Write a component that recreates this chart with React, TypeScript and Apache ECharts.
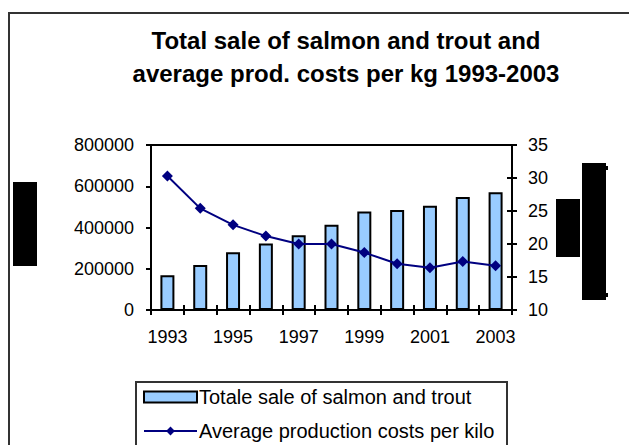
import React, { useEffect, useRef } from "react";
import * as echarts from "echarts";

const years = ["1993", "1994", "1995", "1996", "1997", "1998", "1999", "2000", "2001", "2002", "2003"];
const totalSale = [168000, 218000, 280000, 322000, 363000, 413000, 477000, 485000, 506000, 548000, 571000];
const avgCost = [30.3, 25.4, 22.9, 21.2, 20.0, 20.0, 18.7, 17.0, 16.4, 17.35, 16.7];
const saleName = "Totale sale of salmon and trout";
const costName = "Average production costs per kilo";
const titleText = "Total sale of salmon and trout and\naverage prod. costs per kg 1993-2003";

export default function App() {
  const ref = useRef<HTMLDivElement>(null);
  useEffect(() => {
    if (!ref.current) return;
    const chart = echarts.init(ref.current, null, { renderer: "svg" });
    const font = "Liberation Sans, Arial, sans-serif";
    const labelStyle = { color: "#000", fontSize: 18, fontFamily: font };
    const legendText = { color: "#000", fontSize: 20, fontFamily: font, padding: [0, 0, 0, -3] };
    chart.setOption({
      animation: false,
      backgroundColor: "#fff",
      title: {
        text: titleText,
        left: 341,
        top: 19,
        textAlign: "center",
        textStyle: { fontSize: 24, fontWeight: "bold", color: "#000", fontFamily: font, lineHeight: 33 },
      },
      grid: { left: 151, right: 117, top: 145, bottom: 135, show: true, borderColor: "#000", borderWidth: 2, backgroundColor: "transparent" },
      legend: [
        {
          left: 143,
          top: 387,
          itemWidth: 53,
          itemHeight: 11,
          padding: 0,
          textStyle: legendText,
          data: [{ name: saleName, icon: "rect", itemStyle: { color: "#99CCFF", borderColor: "#000", borderWidth: 2 } }],
        },
        {
          left: 143,
          top: 421,
          itemWidth: 53,
          itemHeight: 11,
          padding: 0,
          textStyle: legendText,
          data: [{ name: costName }],
        },
      ],
      xAxis: [
        {
          type: "category",
          data: years,
          boundaryGap: true,
          axisLine: { lineStyle: { color: "#000", width: 2 } },
          axisTick: { show: true, interval: 0, length: 5, lineStyle: { color: "#000", width: 2 } },
          axisLabel: { ...labelStyle, interval: 1, margin: 18 },
        },
        {
          type: "category",
          data: years,
          position: "bottom",
          boundaryGap: true,
          axisLine: { show: false },
          axisTick: { show: true, inside: true, interval: 0, length: 5, lineStyle: { color: "#000", width: 2 } },
          axisLabel: { show: false },
        },
      ],
      yAxis: [
        {
          type: "value",
          min: 0,
          max: 800000,
          interval: 200000,
          position: "left",
          splitLine: { show: false },
          axisLine: { show: true, lineStyle: { color: "#000", width: 2 } },
          axisTick: { show: true, length: 5, lineStyle: { color: "#000", width: 2 } },
          axisLabel: { ...labelStyle, margin: 17, formatter: (v: number) => String(v) },
        },
        {
          type: "value",
          min: 10,
          max: 35,
          interval: 5,
          position: "right",
          splitLine: { show: false },
          axisLine: { show: true, lineStyle: { color: "#000", width: 2 } },
          axisTick: { show: true, length: 5, lineStyle: { color: "#000", width: 2 } },
          axisLabel: { ...labelStyle, margin: 16 },
        },
        {
          type: "value",
          min: 10,
          max: 35,
          interval: 5,
          position: "right",
          splitLine: { show: false },
          axisLine: { show: false },
          axisTick: { show: true, inside: true, length: 5, lineStyle: { color: "#000", width: 2 } },
          axisLabel: { show: false },
        },
      ],
      series: [
        {
          name: saleName,
          type: "bar",
          data: totalSale,
          xAxisIndex: 0,
          yAxisIndex: 0,
          barWidth: 14,
          itemStyle: { color: "#99CCFF", borderColor: "#000", borderWidth: 2 },
        },
        {
          name: costName,
          type: "line",
          data: avgCost,
          xAxisIndex: 0,
          yAxisIndex: 1,
          symbol: "diamond",
          symbolSize: 11,
          lineStyle: { color: "#000080", width: 2 },
          itemStyle: { color: "#000080" },
        },
      ],
      graphic: [
        { type: "rect", shape: { x: 9, y: 13, width: 640, height: 460 }, style: { fill: "none", stroke: "#333", lineWidth: 2 }, z: 10 },
        { type: "rect", shape: { x: 136, y: 382, width: 371, height: 100 }, style: { fill: "none", stroke: "#333", lineWidth: 2 }, z: 10 },
        { type: "rect", shape: { x: 13, y: 182, width: 24, height: 84 }, style: { fill: "#000" }, z: 10 },
        { type: "rect", shape: { x: 556, y: 199, width: 24, height: 58 }, style: { fill: "#000" }, z: 10 },
        { type: "rect", shape: { x: 582, y: 163, width: 24, height: 137 }, style: { fill: "#000" }, z: 10 },
        { type: "rect", shape: { x: 606, y: 166, width: 2, height: 4 }, style: { fill: "#000" }, z: 10 },
        { type: "rect", shape: { x: 606, y: 293, width: 2, height: 4 }, style: { fill: "#000" }, z: 10 },
      ],
    });
    return () => chart.dispose();
  }, []);
  return <div ref={ref} style={{ position: "absolute", left: 0, top: 0, width: 629, height: 445 }} />;
}
